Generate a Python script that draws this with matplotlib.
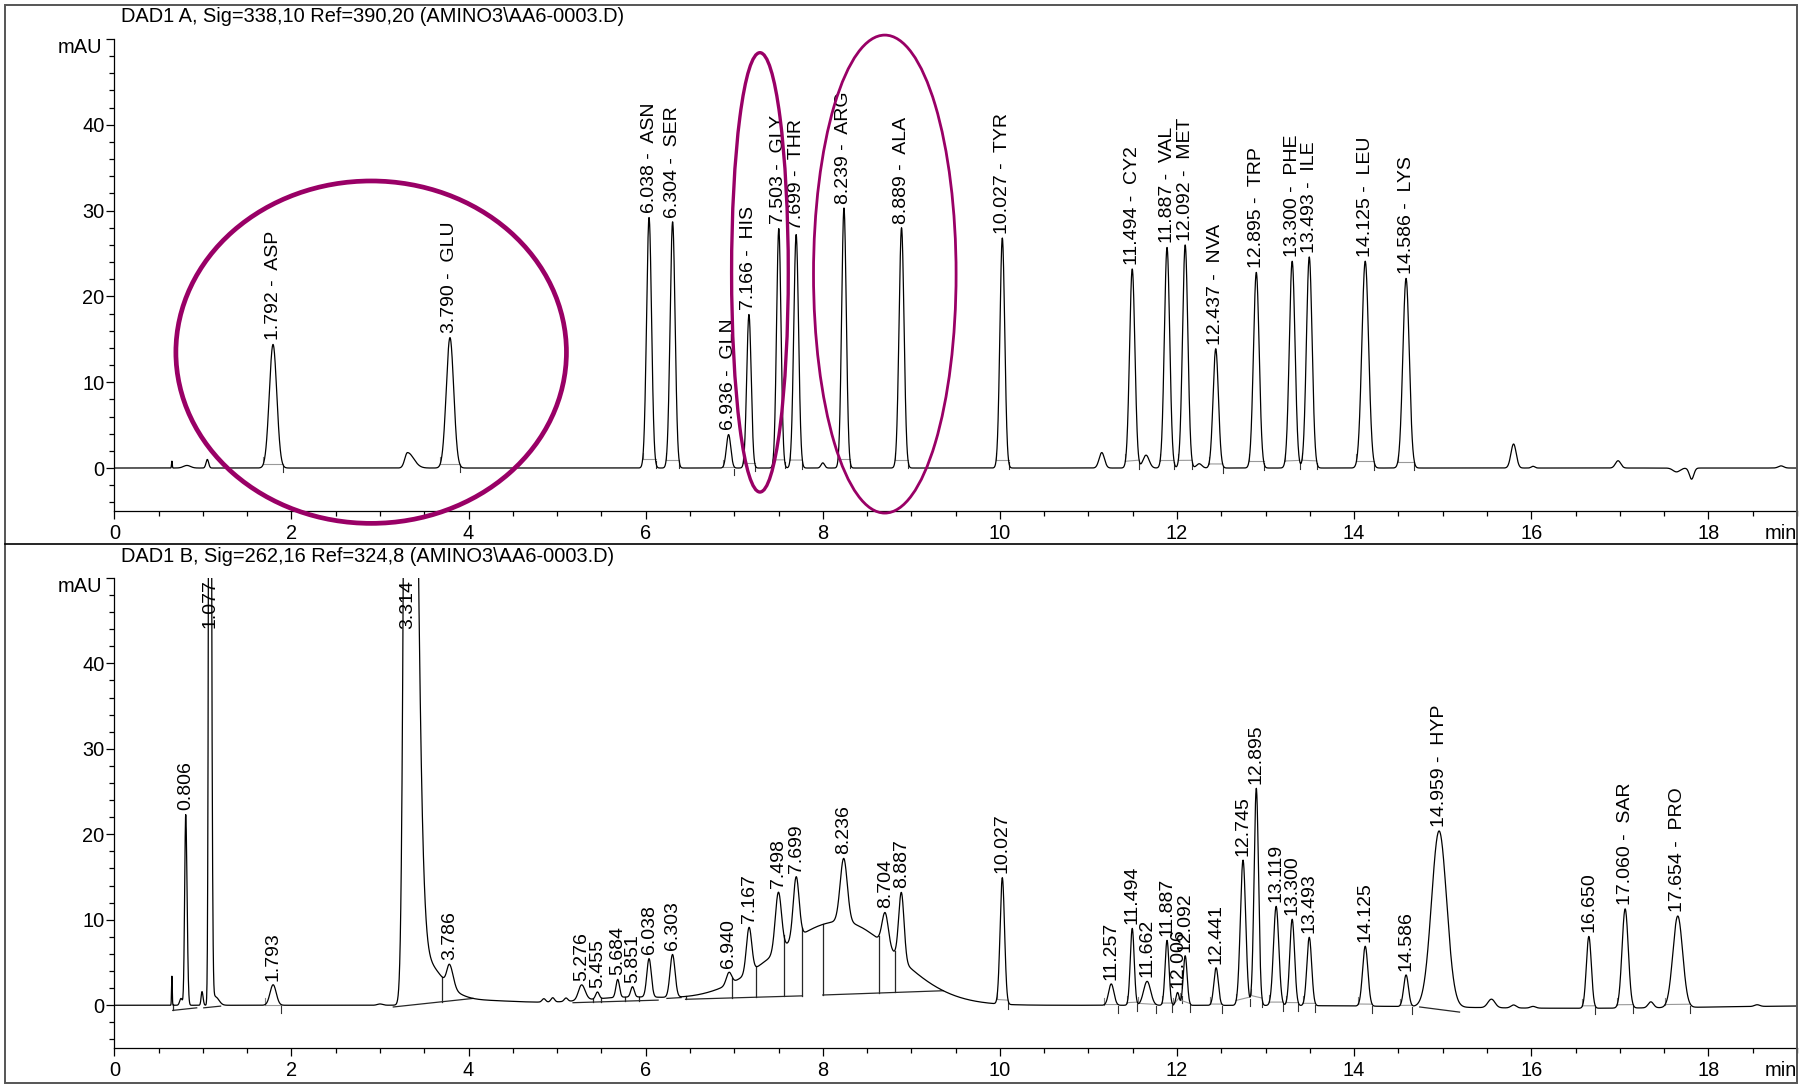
import numpy as np
import matplotlib
matplotlib.use("Agg")
import matplotlib.pyplot as plt
from matplotlib.patches import Ellipse, Rectangle
from matplotlib.lines import Line2D
from matplotlib.ticker import MultipleLocator

plt.rcParams['font.family'] = ['Liberation Sans', 'DejaVu Sans']

W, H = 1812, 1085

# ---- DAD1 A peaks (time min, height mAU, sigma left, sigma right, label)
a_time = [0.650, 0.820, 1.050, 1.792, 3.310, 3.790, 6.038, 6.304, 6.936, 7.166,
          7.503, 7.699, 8.000, 8.239, 8.889, 10.027, 11.150, 11.494, 11.650,
          11.887, 12.092, 12.250, 12.437, 12.895, 13.300, 13.493, 14.125, 14.586,
          15.800, 16.020, 16.980, 17.640, 17.810, 18.820]
a_height = [0.8, 0.3, 1.0, 14.4, 1.8, 15.2, 29.2, 28.7, 3.9, 17.9,
            27.9, 27.2, 0.6, 30.3, 28.0, 26.8, 1.8, 23.2, 1.5,
            25.7, 26.0, 0.5, 13.9, 22.8, 24.1, 24.6, 24.1, 22.1,
            2.8, 0.2, 0.85, -0.45, -1.3, 0.25]
a_sig_l = [0.004, 0.04, 0.015, 0.042, 0.03, 0.042, 0.028, 0.028, 0.025, 0.025,
           0.025, 0.027, 0.02, 0.026, 0.028, 0.027, 0.03, 0.03, 0.035,
           0.03, 0.03, 0.03, 0.03, 0.032, 0.032, 0.032, 0.038, 0.036,
           0.03, 0.02, 0.03, 0.04, 0.025, 0.03]
a_sig_r = [0.004, 0.04, 0.015, 0.042, 0.07, 0.042, 0.028, 0.028, 0.025, 0.025,
           0.025, 0.027, 0.02, 0.026, 0.028, 0.027, 0.03, 0.03, 0.035,
           0.03, 0.03, 0.03, 0.03, 0.032, 0.032, 0.032, 0.038, 0.036,
           0.03, 0.02, 0.03, 0.04, 0.025, 0.03]
a_label = ['', '', '', '1.792 -  ASP', '', '3.790 -  GLU', '6.038 -  ASN', '6.304 -  SER',
           '6.936 -  GLN', '7.166 -  HIS', '7.503 -  GLY', '7.699 -  THR', '', '8.239 -  ARG',
           '8.889 -  ALA', '10.027 -  TYR', '', '11.494 -  CY2', '', '11.887 -  VAL',
           '12.092 -  MET', '', '12.437 -  NVA', '12.895 -  TRP', '13.300 -  PHE',
           '13.493 -  ILE', '14.125 -  LEU', '14.586 -  LYS', '', '', '', '', '', '']

# ---- DAD1 B peaks
b_time = [0.650, 0.753, 0.806, 0.990, 1.077, 1.140, 1.793, 3.000, 3.314, 3.400,
          3.786, 4.000, 4.850, 4.950, 5.100, 5.276, 5.455, 5.684, 5.800, 5.851,
          6.038, 6.303, 6.940, 7.167, 7.498, 7.699, 8.200, 8.236, 8.704, 8.887,
          10.027, 11.257, 11.494, 11.662, 11.887, 12.006, 12.092, 12.441, 12.745,
          12.895, 13.119, 13.300, 13.493, 14.125, 14.586, 14.959, 15.550, 15.800,
          16.020, 16.500, 16.650, 17.060, 17.350, 17.654, 18.550]
b_height = [3.4, 0.8, 22.3, 1.6, 130.0, 1.0, 2.4, 0.15, 150.0, 6.0,
            2.5, 0.6, 0.4, 0.5, 0.4, 1.8, 0.8, 2.1, 0.9, 1.2,
            4.5, 5.0, 1.4, 5.3, 6.9, 7.2, 9.8, 7.4, 3.8, 7.9,
            14.8, 2.5, 9.0, 2.8, 7.6, 1.5, 5.8, 4.4, 17.0,
            25.4, 11.6, 10.1, 8.0, 7.0, 3.7, 20.6, 1.0, 0.35,
            0.2, -0.35, 8.4, 11.6, 0.7, 10.7, 0.2]
b_sig_l = [0.004, 0.015, 0.012, 0.010, 0.011, 0.02, 0.035, 0.03, 0.035, 0.05,
           0.03, 0.3, 0.02, 0.02, 0.02, 0.035, 0.02, 0.02, 0.5, 0.02,
           0.025, 0.028, 0.03, 0.03, 0.035, 0.033, 0.75, 0.04, 0.035, 0.03,
           0.025, 0.03, 0.022, 0.04, 0.022, 0.018, 0.022, 0.025, 0.03,
           0.025, 0.03, 0.027, 0.027, 0.03, 0.027, 0.085, 0.04, 0.03,
           0.03, 1.5, 0.028, 0.035, 0.03, 0.055, 0.03]
b_sig_r = [0.004, 0.015, 0.015, 0.012, 0.016, 0.04, 0.035, 0.03, 0.078, 0.25,
           0.04, 0.6, 0.02, 0.02, 0.02, 0.04, 0.02, 0.02, 0.5, 0.02,
           0.025, 0.028, 0.03, 0.03, 0.035, 0.033, 0.62, 0.04, 0.035, 0.03,
           0.025, 0.03, 0.022, 0.04, 0.022, 0.018, 0.022, 0.025, 0.03,
           0.025, 0.03, 0.027, 0.027, 0.03, 0.027, 0.085, 0.04, 0.03,
           0.03, 1.5, 0.028, 0.035, 0.03, 0.055, 0.03]
b_label = ['', '', '0.806', '', '1.077', '', '1.793', '', '3.314', '',
           '3.786', '', '', '', '', '5.276', '5.455', '5.684', '', '5.851',
           '6.038', '6.303', '6.940', '7.167', '7.498', '7.699', '', '8.236', '8.704', '8.887',
           '10.027', '11.257', '11.494', '11.662', '11.887', '12.006', '12.092', '12.441', '12.745',
           '12.895', '13.119', '13.300', '13.493', '14.125', '14.586', '14.959 -  HYP', '', '',
           '', '', '16.650', '17.060 -  SAR', '', '17.654 -  PRO', '']

# integration baselines in DAD1 B: start, start level, end, end level, drop lines
bl_start = [0.66, 1.01, 3.15, 5.18, 6.24, 6.45, 8.00, 14.74]
bl_start_y = [-0.6, -0.3, -0.2, 0.3, 0.8, 0.7, 1.2, -0.2]
bl_end = [0.93, 1.20, 4.05, 6.14, 6.40, 7.77, 9.36, 15.19]
bl_end_y = [-0.3, -0.1, 0.8, 0.6, 0.9, 1.1, 1.7, -0.8]
bl_drops = [[0.66], [], [3.70], [5.40, 5.50, 5.77, 5.92], [],
            [6.45, 6.98, 7.24, 7.56, 7.77], [8.00, 8.63, 8.81], []]

titles = ['DAD1 A, Sig=338,10 Ref=390,20 (AMINO3\\AA6-0003.D)',
          'DAD1 B, Sig=262,16 Ref=324,8 (AMINO3\\AA6-0003.D)']

# marked regions on DAD1 A: centre x, centre y, width, height, line width
ell_x = [2.90, 7.29, 8.70]
ell_y = [13.5, 22.8, 22.6]
ell_w = [4.41, 0.64, 1.61]
ell_h = [39.9, 51.2, 55.7]
ell_lw = [3.4, 2.4, 2.0]
ell_color = '#990066'

FS = 14.4


def signal(t, times, heights, sl, sr):
    t = np.asarray(t, dtype=float)
    y = np.zeros_like(t)
    for t0, h, s1, s2 in zip(times, heights, sl, sr):
        s = np.where(t < t0, s1, s2)
        y = y + h * np.exp(-0.5 * ((t - t0) / s) ** 2)
    return y


def setup_axes(ax):
    ax.set_xlim(0, 19)
    ax.set_ylim(-5, 50)
    ax.spines['top'].set_visible(False)
    ax.spines['right'].set_visible(False)
    ax.set_xticks(np.arange(0, 19, 2))
    ax.xaxis.set_minor_locator(MultipleLocator(0.5))
    ax.set_yticks([0, 10, 20, 30, 40, 50])
    ax.set_yticklabels(['0', '10', '20', '30', '40', ''])
    ax.yaxis.set_minor_locator(MultipleLocator(2))
    ax.tick_params(axis='x', which='major', direction='out', length=6, width=0.9,
                   pad=3.5, labelsize=FS)
    ax.tick_params(axis='x', which='minor', direction='out', length=3.5, width=0.9)
    ax.tick_params(axis='y', which='major', direction='out', length=6, width=0.9,
                   pad=1, labelsize=FS)
    ax.tick_params(axis='y', which='minor', direction='out', length=3.5, width=0.9)
    for s in ['left', 'bottom']:
        ax.spines[s].set_linewidth(0.9)
    ax.annotate('mAU', xy=(0, 49.0), xycoords=('axes fraction', 'data'),
                xytext=(-9, 0), textcoords='offset points', ha='right', va='center',
                fontsize=FS)
    ax.annotate('min', xy=(1, 0), xycoords='axes fraction', xytext=(0, -9.5),
                textcoords='offset points', ha='right', va='top', fontsize=FS)


def label_peaks(ax, times, heights, sl, sr, labels, fn, skip=()):
    for t0, h, s1, s2, lab in zip(times, heights, sl, sr, labels):
        if not lab:
            continue
        ytop = float(fn(t0))
        if ytop > 49:
            ax.text(t0, 49.8, lab, rotation=90, ha='center', va='top', fontsize=FS - 0.4)
            continue
        ax.annotate(lab, xy=(t0, ytop), xytext=(0, 3), textcoords='offset points',
                    rotation=90, ha='center', va='bottom', fontsize=FS - 0.4)
        # integration marks at the peak base (not where a drawn baseline exists)
        if any(a <= t0 <= b for a, b in skip) or s2 > 0.1:
            continue
        t1, t2 = t0 - 2.6 * s1, t0 + 2.6 * s2
        ax.plot([t1, t2], [fn(t1), fn(t2)], color='0.6', lw=0.8, zorder=1)
        ax.plot([t1, t1], [fn(t1), fn(t1) + 0.8], color='0.5', lw=0.8, zorder=1)
        ax.plot([t2, t2], [fn(t2) - 0.2, fn(t2) - 1.0], color='0.2', lw=0.8, zorder=1)


fig = plt.figure(figsize=(W / 100, H / 100), dpi=100)
ax_a = fig.add_axes([0.0631, 0.5291, 0.9286, 0.4350])
ax_b = fig.add_axes([0.0631, 0.0341, 0.9286, 0.4333])

t = np.linspace(0, 19, 9500)

fa = lambda x: signal(x, a_time, a_height, a_sig_l, a_sig_r)
fb = lambda x: signal(x, b_time, b_height, b_sig_l, b_sig_r)

ax_a.plot(t, fa(t), color='black', lw=0.9, zorder=3)
ax_b.plot(t, fb(t), color='black', lw=0.9, zorder=3)

for ax in (ax_a, ax_b):
    setup_axes(ax)

label_peaks(ax_a, a_time, a_height, a_sig_l, a_sig_r, a_label, fa)
label_peaks(ax_b, b_time, b_height, b_sig_l, b_sig_r, b_label, fb,
            skip=list(zip(bl_start, bl_end)))

# integration baselines and drop lines on DAD1 B
for x0, y0, x1, y1, drops in zip(bl_start, bl_start_y, bl_end, bl_end_y, bl_drops):
    ax_b.plot([x0, x1], [y0, y1], color='0.15', lw=0.9, zorder=2)
    for d in drops:
        yb = y0 + (y1 - y0) * (d - x0) / (x1 - x0)
        ax_b.plot([d, d], [yb, float(fb(d))], color='0.15', lw=0.9, zorder=2)

# hand drawn marks on DAD1 A
for cx, cy, w, h, lw in zip(ell_x, ell_y, ell_w, ell_h, ell_lw):
    ax_a.add_patch(Ellipse((cx, cy), w, h, fill=False, ec=ell_color, lw=lw,
                           clip_on=False, zorder=5))

fig.text(121 / W, 1 - 17 / H, titles[0], ha='left', va='center', fontsize=FS)
fig.text(121 / W, 1 - 556 / H, titles[1], ha='left', va='center', fontsize=FS)

# page frame and panel divider
fig.add_artist(Rectangle((5 / W, 1 - 1083 / H), (1797 - 5) / W, (1083 - 5) / H,
                         transform=fig.transFigure, fill=False, ec='#555555', lw=1.4))
fig.add_artist(Line2D([5 / W, 1797 / W], [1 - 544 / H, 1 - 544 / H],
                      transform=fig.transFigure, color='black', lw=1.2))

fig.savefig('out.png', dpi=100)
